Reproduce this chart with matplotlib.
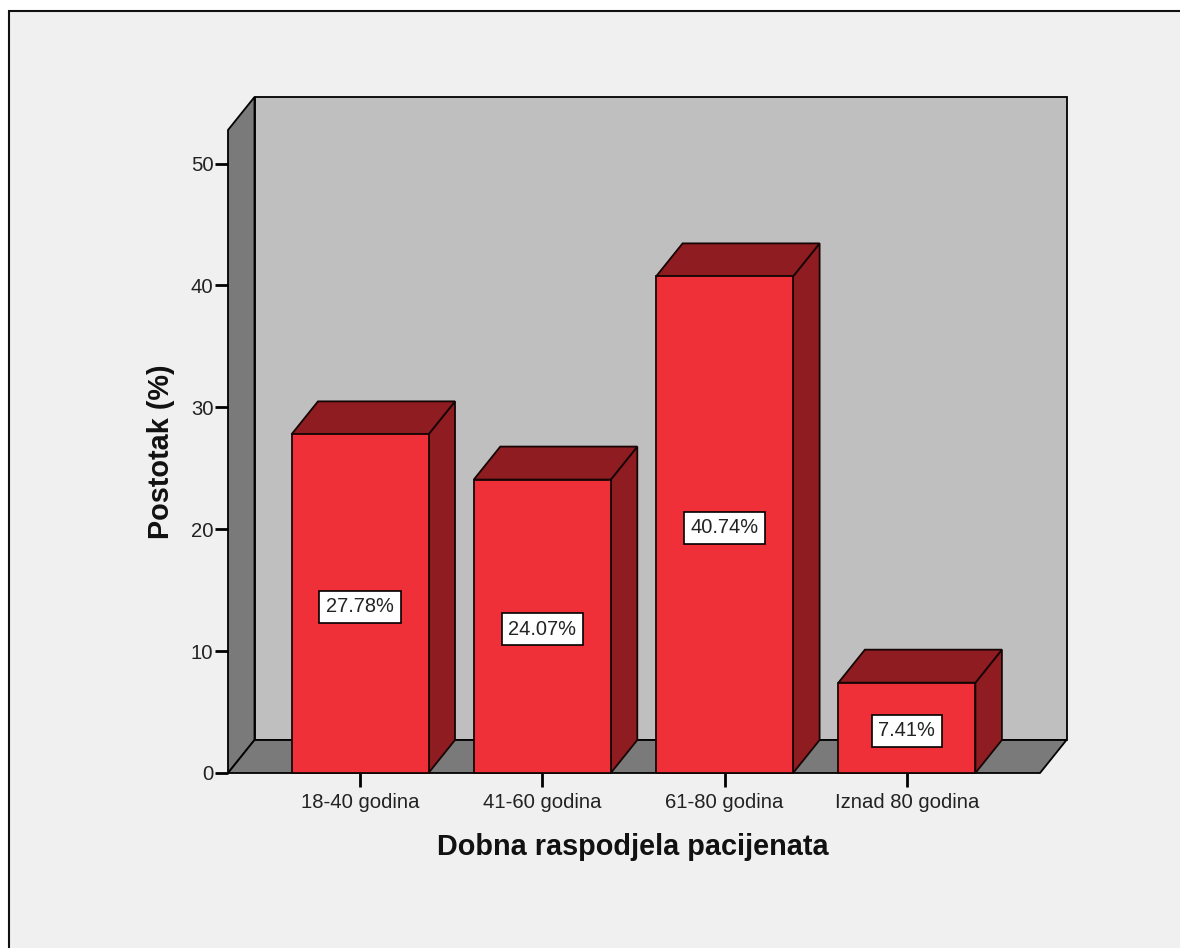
import matplotlib
matplotlib.use("Agg")
import matplotlib.pyplot as plt
from matplotlib.patches import Polygon, Rectangle

plt.rcParams['font.family'] = ['Liberation Sans', 'DejaVu Sans']

categories = ['18-40 godina', '41-60 godina', '61-80 godina', 'Iznad 80 godina']
values = [27.78, 24.07, 40.74, 7.41]
value_labels = ['27.78%', '24.07%', '40.74%', '7.41%']
yticks = [0, 10, 20, 30, 40, 50]
xlabel = 'Dobna raspodjela pacijenata'
ylabel = 'Postotak (%)'

W, H = 1180, 948
BG = '#f0f0f0'; WALL = '#bfbfbf'; SIDE = '#7a7a7a'
FRONT = '#f03038'; DARK = '#8e1c20'

fig = plt.figure(figsize=(W / 100, H / 100), dpi=100, facecolor='white')
fig.add_artist(Rectangle((9 / W, -0.1), 1.1, 1.1 - 11 / H, transform=fig.transFigure,
                         facecolor=BG, edgecolor='#111111', linewidth=1.5, zorder=-5))

# pixel geometry of the plot frame
L, R, B, T = 228, 1040, 773, 130
ax = fig.add_axes([L / W, 1 - B / H, (R - L) / W, (B - T) / H])
px_x = 182.3
px_y = 12.19
ax.set_xlim((L - 360) / px_x, (R - 360) / px_x)
ax.set_ylim(0, (B - T) / px_y)
ax.patch.set_alpha(0)
for s in ax.spines.values():
    s.set_visible(False)

dx = 26.5 / px_x
dy = 33.0 / px_y
x0, x1 = ax.get_xlim()
y1 = ax.get_ylim()[1]
LW = 1.3
def poly(pts, fc, ec='black', z=1):
    ax.add_patch(Polygon(pts, closed=True, facecolor=fc, edgecolor=ec,
                         linewidth=LW, joinstyle='miter', clip_on=False, zorder=z))

poly([(x0 + dx, dy), (x1 + dx, dy), (x1 + dx, y1 + dy), (x0 + dx, y1 + dy)], WALL)
poly([(x0, 0), (x0 + dx, dy), (x0 + dx, y1 + dy), (x0, y1)], SIDE)
poly([(x0, 0), (x1, 0), (x1 + dx, dy), (x0 + dx, dy)], SIDE)

bw = 137.0 / px_x
for i, (v, lab) in enumerate(zip(values, value_labels)):
    l, r = i - bw / 2, i + bw / 2
    poly([(r, 0), (r + dx, dy), (r + dx, v + dy), (r, v)], DARK, '#150505', 3)
    poly([(l, v), (r, v), (r + dx, v + dy), (l + dx, v + dy)], DARK, '#150505', 3)
    poly([(l, 0), (r, 0), (r, v), (l, v)], FRONT, '#150505', 3)
    ax.annotate(lab, (i, v / 2), xytext=(0, -2.2), textcoords='offset points',
                ha='center', va='center', fontsize=14.4, color='#222222', zorder=5,
                bbox=dict(boxstyle='square,pad=0.33', facecolor='white', edgecolor='black', linewidth=1.2))

ax.set_xticks(range(len(categories)), categories)
ax.set_yticks(yticks)
ax.tick_params(axis='x', length=10, width=2, pad=4.5, labelsize=14.6, labelcolor='#222222')
ax.tick_params(axis='y', length=9.5, width=2, pad=1, labelsize=14.6, labelcolor='#222222')

ax.set_xlabel(xlabel, fontsize=20.8, fontweight='bold', color='#111111')
ax.set_ylabel(ylabel, fontsize=20.8, fontweight='bold', color='#111111')
ax.xaxis.set_label_coords((633 - L) / (R - L), (B - 847) / (B - T), transform=ax.transAxes)
ax.xaxis.label.set_va('center')
ax.yaxis.set_label_coords((161 - L) / (R - L), (B - 452) / (B - T), transform=ax.transAxes)
ax.yaxis.label.set_va('center')

fig.savefig('out.png', dpi=100, facecolor='white')
